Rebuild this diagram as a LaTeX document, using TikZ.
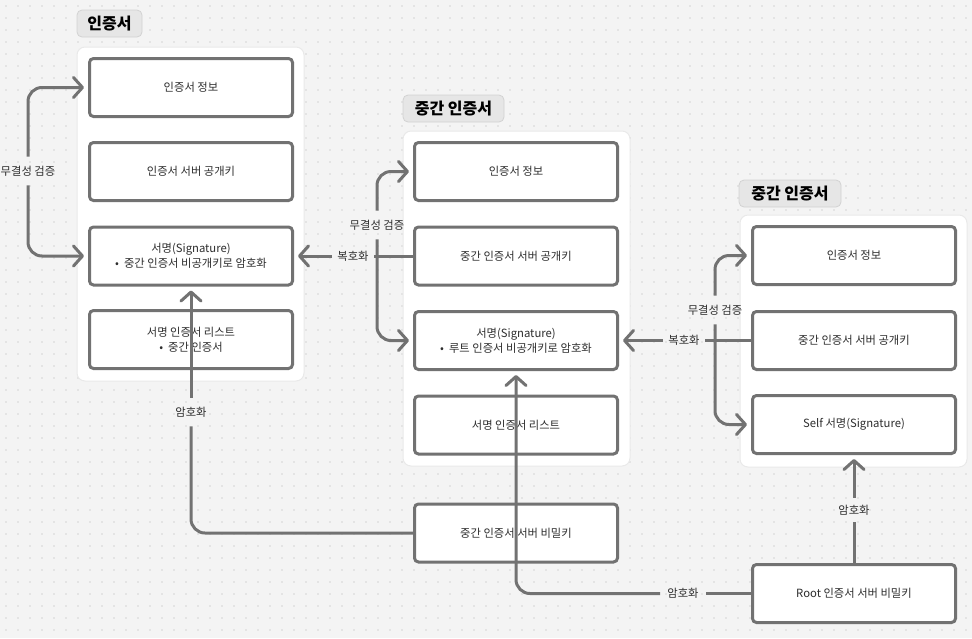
\documentclass[tikz,border=0pt]{standalone}
\usepackage{fontspec}
\setmainfont{Noto Sans CJK KR}
\usetikzlibrary{arrows.meta}
\definecolor{bgc}{HTML}{F4F4F4}
\definecolor{dotc}{HTML}{B0B0B0}
\definecolor{linec}{HTML}{727272}
\definecolor{txtc}{HTML}{2E2E2E}
\definecolor{tagc}{HTML}{E6E6E6}
\definecolor{tagb}{HTML}{D2D2D2}
\definecolor{panb}{HTML}{E9E9E9}
\tikzset{
  box/.style={draw=linec, line width=3pt, fill=white, rounded corners=4pt,
    minimum width=203pt, minimum height=58pt, text=txtc, font=\fontsize{11.3}{15}\selectfont, align=center, inner sep=0pt},
  panel/.style={draw=panb, line width=1pt, fill=white, rounded corners=8pt},
  tag/.style={draw=tagb, line width=0.8pt, fill=tagc, rounded corners=5pt, text=black,
    font=\fontsize{16}{18}\selectfont\bfseries, inner sep=0pt},
  lab/.style={text=txtc, font=\fontsize{11.3}{13}\selectfont, inner xsep=5pt, inner ysep=9pt},
  conn/.style={draw=linec, line width=3pt, rounded corners=14pt},
  arr/.style={conn, -{Straight Barb[length=9pt,width=20pt,line width=3pt,round]}, shorten >=4pt}
}
\begin{document}
\begin{tikzpicture}[x=1pt,y=-1pt]
\fill[bgc] (0,0) rectangle (972,638);
\useasboundingbox (0,0) rectangle (972,638);
\foreach \i in {0,...,80} {\foreach \j in {0,...,52} {\fill[dotc] (6+12*\i,6+12*\j) circle (0.65pt);}}
% panels
\draw[panel] (77,47) rectangle (304,381);
\draw[panel] (403,131) rectangle (630,466);
\draw[panel] (740,215) rectangle (967,467);
% tags
\node[tag, minimum width=65pt, minimum height=27pt] (t1) at (109.5,23.5) {인증서};
\node[tag, minimum width=101pt, minimum height=27pt] (t2) at (453.5,108.5) {중간 인증서};
\node[tag, minimum width=102pt, minimum height=27pt] (t3) at (790,193.5) {중간 인증서};
% panel 1 boxes
\node[box] (b11) at (191,87.5) {인증서 정보};
\node[box] (b12) at (191,171.5) {인증서 서버 공개키};
\node[box] (b13) at (191,256) {서명(Signature)\\ •\ \ 중간 인증서 비공개키로 암호화};
\node[box] (b14) at (191,339.5) {서명 인증서 리스트\\ •\ \ 중간 인증서};
% panel 2 boxes
\node[box] (b21) at (516,171.5) {인증서 정보};
\node[box] (b22) at (516,256) {중간 인증서 서버 공개키};
\node[box] (b23) at (516,340.5) {서명(Signature)\\ •\ \ 루트 인증서 비공개키로 암호화};
\node[box] (b24) at (516,425) {서명 인증서 리스트};
% panel 3 boxes
\node[box] (b31) at (854,255.5) {인증서 정보};
\node[box] (b32) at (854,340.5) {중간 인증서 서버 공개키};
\node[box] (b33) at (854,424.5) {Self 서명(Signature)};
% key boxes
\node[box] (mk) at (516,533) {중간 인증서 서버 비밀키};
\node[box] (rk) at (854,593.5) {Root 인증서 서버 비밀키};
% labels
\node[lab] (l1) at (28,171) {무결성 검증};
\node[lab] (l2) at (377,225) {무결성 검증};
\node[lab] (l3) at (715,310) {무결성 검증};
\node[lab] (d1) at (353,256) {복호화};
\node[lab] (d2) at (684,340.5) {복호화};
\node[lab] (e1) at (191,412) {암호화};
\node[lab, inner xsep=7pt] (e2) at (683,593.5) {암호화};
\node[lab, inner ysep=7pt] (e3) at (854,510) {암호화};
% connectors
\draw[arr] (l1.north) |- (b11.west);
\draw[arr] (l1.south) |- (b13.west);
\draw[arr] (l2.north) |- (b21.west);
\draw[arr] (l2.south) |- (b23.west);
\draw[arr] (l3.north) |- (b31.west);
\draw[arr] (l3.south) |- (b33.west);
\draw[conn] (b22.west) -- (d1.east);
\draw[arr] (d1.west) -- (b13.east);
\draw[conn] (b32.west) -- (d2.east);
\draw[arr] (d2.west) -- (b23.east);
\draw[conn] (mk.west) -| (e1.south);
\draw[arr] (e1.north) -- (b13.south);
\draw[conn] (rk.west) -- (e2.east);
\draw[arr] (e2.west) -| (b23.south);
\draw[conn] (rk.north) -- (e3.south);
\draw[arr] (e3.north) -- (b33.south);
\end{tikzpicture}
\end{document}
